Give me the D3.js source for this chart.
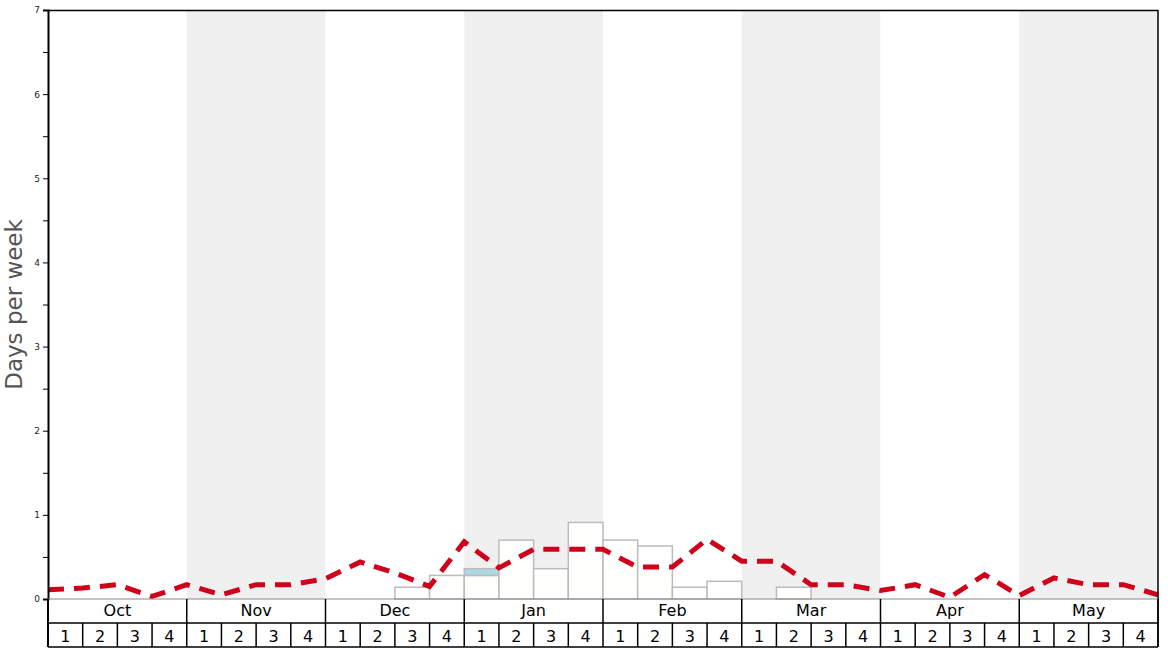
<!DOCTYPE html>
<html>
<head>
<meta charset="utf-8">
<script src="https://d3js.org/d3.v7.min.js"></script>
<style>
body { margin: 0; background: #fff; }
text { font-family: "DejaVu Sans", sans-serif; }
</style>
</head>
<body>
<svg id="chart" width="1168" height="648"></svg>
<script>
// Data =============================================================
var months = ["Oct", "Nov", "Dec", "Jan", "Feb", "Mar", "Apr", "May"];
var weekLabels = ["1", "2", "3", "4"];
// bar heights per week (32 weeks), white part
var snowDays = [0, 0, 0, 0, 0, 0, 0, 0,
	0, 0, 0.14, 0.28, 0.28, 0.70, 0.36, 0.91,
	0.70, 0.63, 0.14, 0.21, 0, 0.14, 0, 0,
	0, 0, 0, 0, 0, 0, 0, 0];
// blue part stacked on top
var extraDays = [0, 0, 0, 0, 0, 0, 0, 0,
	0, 0, 0, 0, 0.08, 0, 0, 0,
	0, 0, 0, 0, 0, 0, 0, 0,
	0, 0, 0, 0, 0, 0, 0, 0];
// average line, one value per week boundary (33 points)
var avgDays = [0.11, 0.13, 0.17, 0.03, 0.17, 0.05, 0.17, 0.17, 0.24,
	0.44, 0.31, 0.15, 0.68, 0.37, 0.59, 0.59, 0.59,
	0.38, 0.38, 0.71, 0.45, 0.45, 0.17, 0.17, 0.10,
	0.17, 0.02, 0.29, 0.04, 0.25, 0.17, 0.17, 0.05];
var yTicks = [0, 1, 2, 3, 4, 5, 6, 7];

// Layout =============================================================
var mLeft = 48, mRight = 1158, mTop = 10, mBottom = 599;
var rowH = 24;
var svg = d3.select("#chart");

var x = d3.scaleLinear().domain([0, 32]).range([mLeft, mRight]);
var y = d3.scaleLinear().domain([0, 7]).range([mBottom, mTop]);

// alternating month bands
svg.selectAll("rect.band")
	.data(months)
	.enter().append("rect")
	.attr("class", "band")
	.attr("x", function(d, i) { return x(i * 4); })
	.attr("y", mTop)
	.attr("width", function(d, i) { return x(i * 4 + 4) - x(i * 4); })
	.attr("height", mBottom - mTop)
	.attr("fill", function(d, i) { return i % 2 ? "#f0f0f0" : "#fff"; });

// bars
var bars = svg.append("g");
snowDays.forEach(function(v, i) {
	if (v > 0) {
		bars.append("rect")
			.attr("x", x(i))
			.attr("y", y(v))
			.attr("width", x(i + 1) - x(i))
			.attr("height", y(0) - y(v))
			.attr("fill", "#fffffe")
			.attr("stroke", "#bbb")
			.attr("stroke-width", 1.5);
	}
	if (extraDays[i] > 0) {
		bars.append("rect")
			.attr("x", x(i))
			.attr("y", y(v + extraDays[i]))
			.attr("width", x(i + 1) - x(i))
			.attr("height", y(v) - y(v + extraDays[i]))
			.attr("fill", "#add8e6")
			.attr("stroke", "#bbb")
			.attr("stroke-width", 1.5);
	}
});

// average line
var line = d3.line()
	.x(function(d, i) { return x(i); })
	.y(function(d) { return y(d); });

svg.append("path")
	.datum(avgDays)
	.attr("d", line)
	.attr("fill", "none")
	.attr("stroke", "#d0021b")
	.attr("stroke-width", 5)
	.attr("stroke-dasharray", "16,10");

// frame
svg.append("line")
	.attr("x1", mLeft).attr("x2", mRight).attr("y1", mTop + 0.5).attr("y2", mTop + 0.5)
	.attr("stroke", "#000").attr("stroke-width", 1.5);
svg.append("line")
	.attr("x1", mRight).attr("x2", mRight).attr("y1", mTop).attr("y2", mBottom + 2 * rowH)
	.attr("stroke", "#000").attr("stroke-width", 1.5);

// y axis
var yAxis = d3.axisLeft(y)
	.tickValues(d3.range(0, 7.01, 0.5))
	.tickFormat(function(d) { return yTicks.indexOf(d) >= 0 ? d : ""; })
	.tickSize(5)
	.tickPadding(3);

var ya = svg.append("g")
	.attr("transform", "translate(" + mLeft + ",0)")
	.call(yAxis);
ya.select(".domain").attr("stroke-width", 2);
ya.selectAll("text").style("font-size", "9px").attr("fill", "#222");

svg.append("text")
	.attr("transform", "translate(22," + ((mTop + mBottom) / 2) + ") rotate(-90)")
	.attr("text-anchor", "middle")
	.attr("fill", "#555")
	.style("font-size", "23px")
	.text("Days per week");

// month row
svg.append("line")
	.attr("x1", mLeft).attr("x2", mRight).attr("y1", mBottom).attr("y2", mBottom)
	.attr("stroke", "#888").attr("stroke-width", 1);
svg.append("line")
	.attr("x1", mLeft).attr("x2", mRight).attr("y1", mBottom + rowH).attr("y2", mBottom + rowH)
	.attr("stroke", "#000").attr("stroke-width", 1.5);
svg.append("line")
	.attr("x1", mLeft).attr("x2", mRight).attr("y1", mBottom + 2 * rowH).attr("y2", mBottom + 2 * rowH)
	.attr("stroke", "#000").attr("stroke-width", 1.5);
svg.append("line")
	.attr("x1", mLeft).attr("x2", mLeft).attr("y1", mBottom).attr("y2", mBottom + 2 * rowH)
	.attr("stroke", "#000").attr("stroke-width", 2);

months.forEach(function(m, i) {
	svg.append("line")
		.attr("x1", x(i * 4 + 4)).attr("x2", x(i * 4 + 4))
		.attr("y1", mBottom).attr("y2", mBottom + rowH)
		.attr("stroke", "#000").attr("stroke-width", 1.5);
	svg.append("text")
		.attr("x", x(i * 4 + 2))
		.attr("y", mBottom + 17)
		.attr("text-anchor", "middle")
		.style("font-size", "16px")
		.text(m);
});

d3.range(32).forEach(function(i) {
	svg.append("line")
		.attr("x1", x(i + 1)).attr("x2", x(i + 1))
		.attr("y1", mBottom + rowH).attr("y2", mBottom + 2 * rowH)
		.attr("stroke", "#000").attr("stroke-width", 1.5);
	svg.append("text")
		.attr("x", x(i + 0.5))
		.attr("y", mBottom + rowH + 19)
		.attr("text-anchor", "middle")
		.style("font-size", "16px")
		.text(weekLabels[i % 4]);
});
</script>
</body>
</html>
